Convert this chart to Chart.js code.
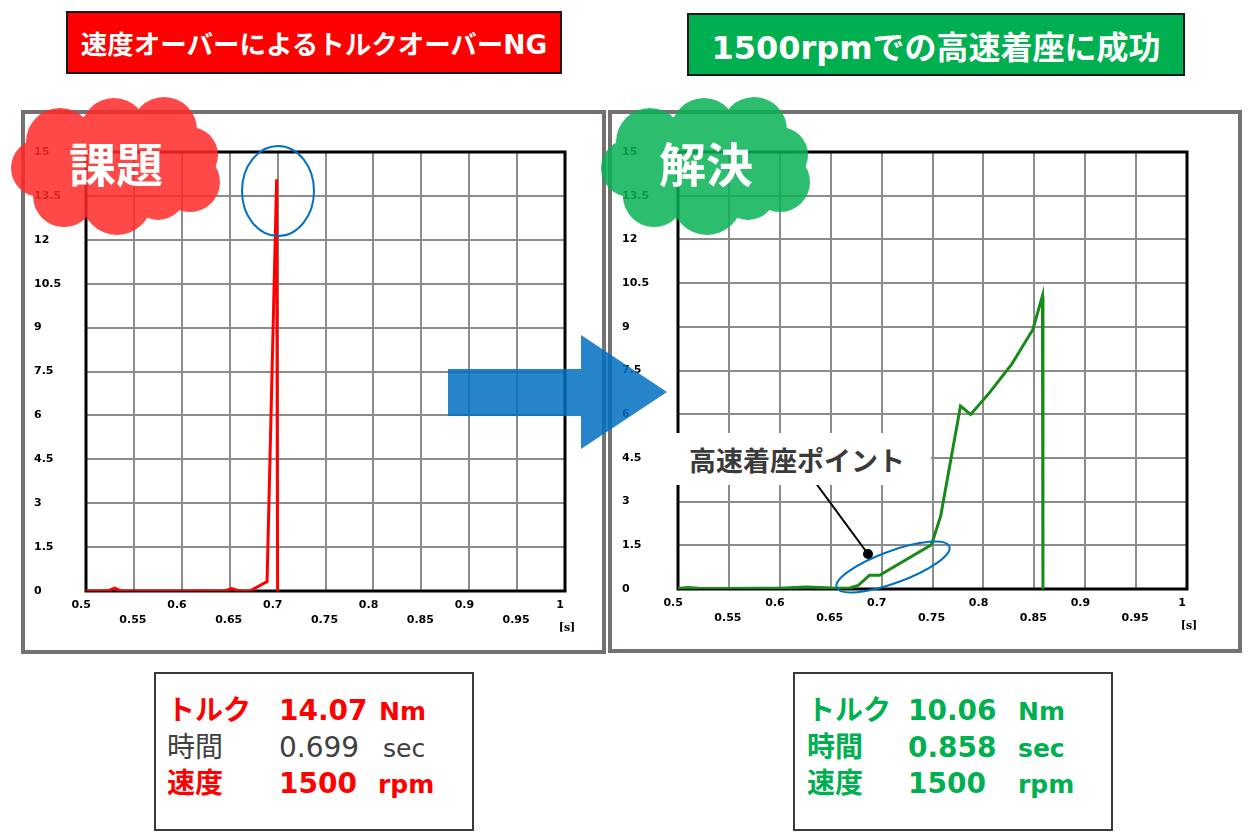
<!DOCTYPE html>
<html lang="ja">
<head>
<meta charset="utf-8">
<title>高速着座</title>
<script src="https://cdn.jsdelivr.net/npm/chart.js@4.4.1/dist/chart.umd.min.js"></script>
<style>
    body { margin: 0; width: 1254px; height: 832px; background: #fff; position: relative; overflow: hidden;
           font-family: "DejaVu Sans", "Noto Sans CJK JP", sans-serif; }
    .abs { position: absolute; }
    .titulo { box-sizing: border-box; border: 2px solid #1a1a1a; color: #fff; font-weight: bold;
              display: flex; align-items: center; justify-content: center; white-space: nowrap; z-index: 3; }
    .panel { box-sizing: border-box; border: 4px solid #767171; z-index: 1; }
    .info { box-sizing: border-box; border: 2px solid #3a3a3a; background: #fff; z-index: 3; }
    .celda { position: absolute; white-space: nowrap; line-height: 1; transform: translateY(-50%); z-index: 4; }
    canvas { position: absolute; z-index: 2; }
    #capa { position: absolute; left: 0; top: 0; z-index: 5; pointer-events: none; }
    .nube { position: absolute; z-index: 6; color: #fff; font-family: "Noto Sans CJK JP", sans-serif;
            font-weight: bold; font-size: 47px; line-height: 1; transform: translate(-50%, -50%); }
    #etiqueta { position: absolute; z-index: 6; left: 665px; top: 433px; width: 266px; height: 52px; background: #fff;
                box-sizing: border-box; padding-left: 24px; display: flex; align-items: center;
                font-family: "Noto Sans CJK JP", sans-serif; font-weight: bold; font-size: 27px; color: #3a3a3a; }
</style>
</head>
<body>

<div class="abs titulo" style="left:66px; top:11px; width:496px; height:63px; background:#ff0000; font-size:26.5px;">速度オーバーによるトルクオーバーNG</div>
<div class="abs titulo" style="left:687px; top:13px; width:498px; height:63px; background:#00b050; font-size:32px;">1500rpmでの高速着座に成功</div>

<div class="abs panel" style="left:21px; top:110px; width:585px; height:544px;"></div>
<div class="abs panel" style="left:608px; top:110px; width:634px; height:543px;"></div>

<canvas id="chartNG" width="550" height="500" style="left:34px; top:140px;"></canvas>
<canvas id="chartOK" width="583" height="500" style="left:622px; top:140px;"></canvas>

<svg id="capa" width="1254" height="832" xmlns="http://www.w3.org/2000/svg"></svg>

<div class="nube" style="left:116px; top:161px;">課題</div>
<div class="nube" style="left:706px; top:161px;">解決</div>
<div id="etiqueta">高速着座ポイント</div>

<div class="abs info" style="left:154px; top:672px; width:320px; height:159px;"></div>
<div class="abs info" style="left:793px; top:672px; width:320px; height:159px;"></div>
<div id="textos"></div>

<script>
// ── DATOS ───────────────────────────────────────────────────────
// Eje X: tiempo [s]  |  Eje Y: torque [Nm]
const ticksX = [0.5, 0.55, 0.6, 0.65, 0.7, 0.75, 0.8, 0.85, 0.9, 0.95, 1];
const ticksY = [0, 1.5, 3, 4.5, 6, 7.5, 9, 10.5, 12, 13.5, 15];

// Caso NG (rojo): sobrevelocidad -> sobretorque
const tiempoNG = [0.5, 0.515, 0.524, 0.53, 0.537, 0.56, 0.6, 0.62, 0.645, 0.652, 0.66, 0.671, 0.689, 0.699, 0.7];
const torqueNG = [0, 0, 0.02, 0.1, 0, 0, 0, 0.01, 0, 0.08, 0, 0, 0.32, 14.07, 0];

// Caso OK (verde): asentamiento a alta velocidad
const tiempoOK = [0.5, 0.51, 0.52, 0.55, 0.58, 0.6, 0.615, 0.625, 0.64, 0.655, 0.668, 0.677, 0.688, 0.698,
                  0.749, 0.758, 0.7775, 0.7875, 0.806, 0.8275, 0.8485, 0.858, 0.8585];
const torqueOK = [0.02, 0.05, 0.03, 0.02, 0.03, 0.03, 0.05, 0.07, 0.05, 0.03, 0.03, 0.12, 0.47, 0.47,
                  1.52, 2.5, 6.28, 5.99, 6.74, 7.7, 8.9, 10.06, 0];

// Cuadros de resultado
const etiquetasInfo = ['トルク', '時間', '速度'];
const valoresNG = ['14.07', '0.699', '1500'];
const valoresOK = ['10.06', '0.858', '1500'];
const unidades  = ['Nm', 'sec', 'rpm'];

// ── PLUGIN: marco negro del área y etiqueta [s] ─────────────────
const marcoPlugin = {
    id: 'marco',
    beforeDatasetsDraw(chart) {
        const { ctx, chartArea: a } = chart;
        ctx.save();
        ctx.strokeStyle = '#000';
        ctx.lineWidth = 3;
        ctx.strokeRect(a.left, a.top, a.right - a.left, a.bottom - a.top);
        ctx.restore();
    },
    afterDraw(chart) {
        const { ctx, chartArea: a } = chart;
        ctx.save();
        ctx.font = 'bold 11px "DejaVu Serif"';
        ctx.fillStyle = '#000';
        ctx.textAlign = 'center';
        ctx.textBaseline = 'middle';
        ctx.fillText('[s]', a.right + 2, a.bottom + 37);
        ctx.restore();
    }
};

function crearGrafico(id, tiempos, torques, color, anchoY, altoX, padDer) {
    const fuente = { family: 'DejaVu Sans', size: 11, weight: 'bold', lineHeight: 1.36 };
    return new Chart(document.getElementById(id), {
        type: 'line',
        data: {
            datasets: [{
                data: tiempos.map((t, i) => ({ x: t, y: torques[i] })),
                borderColor: color,
                borderWidth: 3,
                pointRadius: 0,
                tension: 0,
                fill: false
            }]
        },
        options: {
            responsive: false,
            animation: false,
            layout: { padding: { top: 12, right: padDer, bottom: 0, left: 0 } },
            plugins: { legend: { display: false }, tooltip: { enabled: false } },
            scales: {
                x: {
                    type: 'linear',
                    min: ticksX[0],
                    max: ticksX[ticksX.length - 1],
                    afterFit: s => { s.height = altoX; },
                    afterBuildTicks: s => { s.ticks = ticksX.map(v => ({ value: v })); },
                    ticks: {
                        autoSkip: false, maxRotation: 0, padding: 7, labelOffset: -1,
                        color: '#000', font: fuente,
                        // filas alternas: 0.5, 0.6 ... arriba / 0.55, 0.65 ... abajo
                        callback: (v, i) => i % 2 === 0 ? [String(v) + '\u00a0\u00a0'] : ['', String(v)]
                    },
                    grid: { color: '#8c8c8c', lineWidth: 2, drawTicks: false },
                    border: { display: false }
                },
                y: {
                    min: ticksY[0],
                    max: ticksY[ticksY.length - 1],
                    afterFit: s => { s.width = anchoY; },
                    afterBuildTicks: s => { s.ticks = ticksY.map(v => ({ value: v })); },
                    ticks: { crossAlign: 'far', padding: 0, color: '#000', font: fuente, callback: v => String(v) },
                    grid: { color: '#8c8c8c', lineWidth: 2, drawTicks: false },
                    border: { display: false }
                }
            }
        },
        plugins: [marcoPlugin]
    });
}

crearGrafico('chartNG', tiempoNG, torqueNG, '#ff0000', 52, 49, 19);
crearGrafico('chartOK', tiempoOK, torqueOK, '#178a17', 56, 51, 18);

// ── CAPA DECORATIVA: nubes, flecha, elipses ─────────────────────
const svgNS = 'http://www.w3.org/2000/svg';
const capa = document.getElementById('capa');
function el(tag, attrs, padre = capa) {
    const e = document.createElementNS(svgNS, tag);
    Object.entries(attrs).forEach(([k, v]) => e.setAttribute(k, v));
    padre.appendChild(e);
    return e;
}

const lobulos = [[60, 142, 34], [114, 131, 33], [164, 130, 33], [190, 155, 28], [190, 182, 30],
                 [158, 192, 28], [117, 200, 35], [64, 196, 31], [40, 168, 29]];
function nube(dx, colorNube) {
    const g = el('g', { opacity: 0.85, fill: colorNube });
    lobulos.forEach(([cx, cy, r]) => el('circle', { cx: cx + dx, cy, r }, g));
    el('ellipse', { cx: 115 + dx, cy: 165, rx: 82, ry: 52 }, g);
}
nube(0, '#ff2a2a');
nube(590, '#08b355');

el('polygon', { points: '448,369 581,369 581,335 667,392 581,449 581,416 448,416', fill: '#0070c0', opacity: 0.85 });

el('ellipse', { cx: 278, cy: 191, rx: 36, ry: 45, fill: 'none', stroke: '#0070c0', 'stroke-width': 2 });
el('ellipse', { cx: 893, cy: 567, rx: 60, ry: 16, fill: 'none', stroke: '#0070c0', 'stroke-width': 2,
                transform: 'rotate(-20 893 567)' });
el('line', { x1: 815, y1: 482, x2: 868, y2: 554, stroke: '#000', 'stroke-width': 2 });
el('circle', { cx: 868, cy: 554, r: 5, fill: '#000' });

// ── CUADROS DE RESULTADO ────────────────────────────────────────
const textos = document.getElementById('textos');
const filasY = [711, 748, 784];
function celda(txt, x, y, size, color, peso) {
    const s = document.createElement('span');
    s.className = 'celda';
    s.textContent = txt;
    s.style.cssText = `left:${x}px; top:${y}px; font-size:${size}px; color:${color}; font-weight:${peso};`;
    textos.appendChild(s);
}
etiquetasInfo.forEach((lab, i) => {
    const rojo = i === 1 ? '#404040' : '#ff0000';
    const peso = i === 1 ? 'normal' : 'bold';
    celda(lab, 167, filasY[i], 28, rojo, peso);
    celda(valoresNG[i], 279, filasY[i], 28, rojo, peso);
    celda(unidades[i], [379, 383, 378][i], filasY[i], 25, rojo, peso);

    celda(lab, 807, filasY[i], 28, '#00b050', 'bold');
    celda(valoresOK[i], 908, filasY[i], 28, '#00b050', 'bold');
    celda(unidades[i], 1018, filasY[i], 25, '#00b050', 'bold');
});
</script>
</body>
</html>
